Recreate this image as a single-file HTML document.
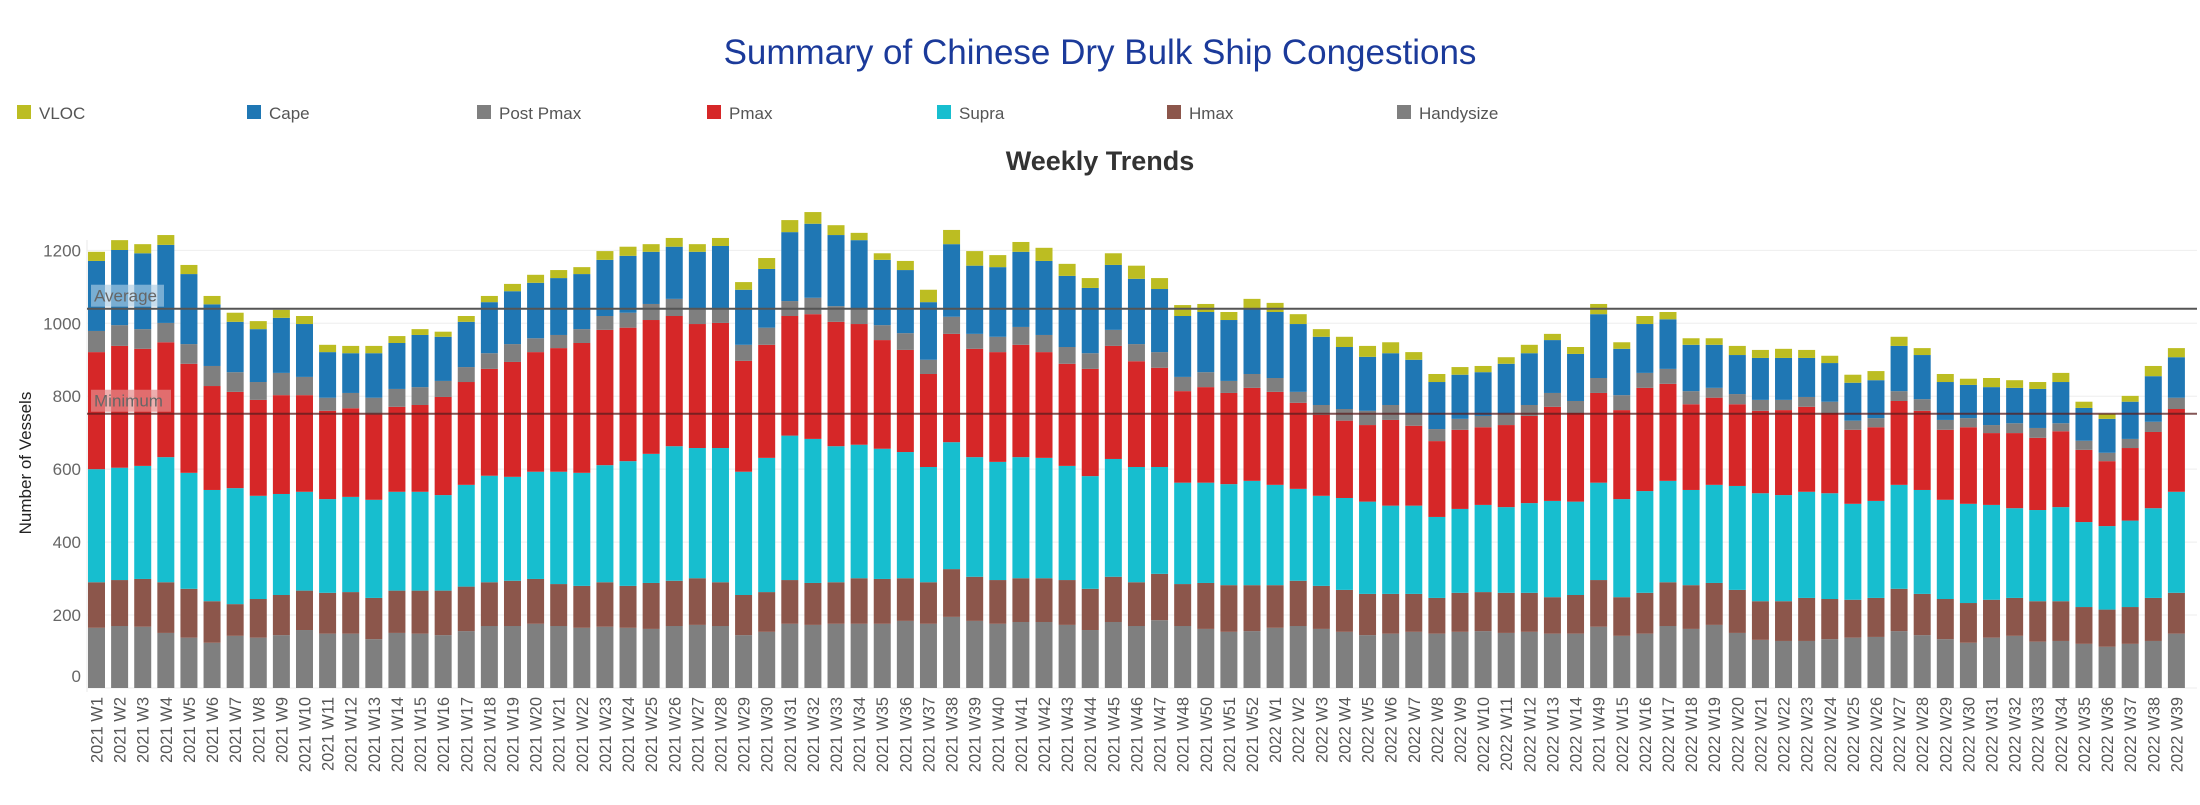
<!DOCTYPE html>
<html><head><meta charset="utf-8">
<style>
html,body{margin:0;padding:0;background:#fff;}
body{width:2200px;height:800px;overflow:hidden;font-family:"Liberation Sans",sans-serif;}
</style></head>
<body>
<svg id="chart" width="2200" height="800" viewBox="0 0 2200 800" xmlns="http://www.w3.org/2000/svg" font-family="Liberation Sans, sans-serif">
  <text x="1100" y="64" text-anchor="middle" font-size="35" fill="#1b3a9a">Summary of Chinese Dry Bulk Ship Congestions</text>
  <g id="legend"></g>
  <text x="1100" y="170" text-anchor="middle" font-size="27" font-weight="bold" fill="#333">Weekly Trends</text>
  <text transform="translate(31,463) rotate(-90)" text-anchor="middle" font-size="17" fill="#222">Number of Vessels</text>
  <g id="grid"></g>
  <g id="bars"></g>
  <g id="refs"></g>
  <g id="xlabels"></g>
</svg>
<script>
const categories = ["2021 W1","2021 W2","2021 W3","2021 W4","2021 W5","2021 W6","2021 W7","2021 W8","2021 W9","2021 W10","2021 W11","2021 W12","2021 W13","2021 W14","2021 W15","2021 W16","2021 W17","2021 W18","2021 W19","2021 W20","2021 W21","2021 W22","2021 W23","2021 W24","2021 W25","2021 W26","2021 W27","2021 W28","2021 W29","2021 W30","2021 W31","2021 W32","2021 W33","2021 W34","2021 W35","2021 W36","2021 W37","2021 W38","2021 W39","2021 W40","2021 W41","2021 W42","2021 W43","2021 W44","2021 W45","2021 W46","2021 W47","2021 W48","2021 W50","2021 W51","2021 W52","2022 W1","2022 W2","2022 W3","2022 W4","2022 W5","2022 W6","2022 W7","2022 W8","2022 W9","2022 W10","2022 W11","2022 W12","2022 W13","2022 W14","2021 W49","2022 W15","2022 W16","2022 W17","2022 W18","2022 W19","2022 W20","2022 W21","2022 W22","2022 W23","2022 W24","2022 W25","2022 W26","2022 W27","2022 W28","2022 W29","2022 W30","2022 W31","2022 W32","2022 W33","2022 W34","2022 W35","2022 W36","2022 W37","2022 W38","2022 W39"];
const handysize = [165,170,168,151,138,124,143,138,145,159,149,149,134,151,149,145,156,170,170,176,170,165,168,165,162,170,173,170,145,154,176,173,176,176,176,184,176,195,184,176,181,181,173,159,181,170,186,170,162,154,156,165,170,162,154,145,149,154,149,154,156,151,154,149,149,168,143,149,170,162,173,151,132,129,129,134,138,140,156,145,134,124,138,143,127,129,121,113,121,129,149];
const hmax = [125,126,131,139,134,114,87,106,110,108,112,114,113,116,118,122,122,120,124,123,115,115,122,115,126,124,128,120,110,109,120,115,114,125,123,117,114,131,121,120,120,120,123,113,124,120,127,115,126,128,126,117,124,118,115,113,109,104,98,107,107,110,107,100,106,128,106,112,120,120,115,118,106,109,118,110,104,107,116,113,110,109,104,104,111,109,101,102,101,118,112];
const supra = [310,308,310,343,318,305,318,283,277,271,257,261,269,271,271,262,279,292,285,294,308,310,321,342,354,369,357,368,338,368,396,395,373,366,357,346,316,348,328,324,332,330,313,309,323,316,293,278,275,277,286,275,252,247,252,253,242,242,222,230,239,235,246,264,256,267,269,279,278,261,269,285,296,291,291,290,263,266,285,285,272,272,260,246,250,258,233,229,237,246,277];
const pmax = [321,334,321,315,299,285,264,263,271,265,242,243,234,233,238,269,282,293,315,328,339,356,371,366,367,357,340,343,304,310,328,342,341,331,298,280,255,297,297,301,308,290,280,294,310,290,272,251,262,250,255,255,236,222,212,210,235,219,208,217,213,225,239,258,243,246,244,283,266,235,239,224,226,233,233,220,203,202,230,217,192,210,197,206,198,208,198,178,199,209,227];
const postPmax = [58,57,54,53,54,55,54,49,61,50,36,42,46,49,49,44,41,43,49,38,36,38,38,41,44,47,44,41,44,47,41,45,43,42,41,46,39,47,41,42,49,47,46,43,44,47,43,39,41,33,38,38,30,27,32,39,41,33,33,30,31,31,30,38,33,41,41,41,41,36,27,28,30,28,27,31,25,25,27,32,27,25,22,27,27,22,25,23,25,28,31];
const cape = [192,206,208,214,192,169,138,145,151,145,125,109,122,126,143,121,124,140,145,152,156,151,154,156,143,143,154,170,151,161,189,203,195,188,179,173,158,199,187,191,206,203,195,179,178,179,173,167,165,167,181,181,186,187,170,148,142,148,129,121,120,137,142,145,129,175,127,134,136,127,118,107,115,115,107,106,104,104,124,121,104,91,104,97,107,113,90,93,102,125,111];
const vloc = [25,27,25,27,25,23,25,22,22,22,20,20,20,19,16,14,16,17,20,22,22,19,24,25,21,24,21,22,21,30,33,32,27,20,18,25,34,39,40,33,27,36,33,27,32,36,30,30,22,22,25,25,27,21,28,30,30,21,22,21,17,18,23,17,19,28,18,22,20,18,18,25,22,25,22,20,22,25,25,19,22,17,25,21,19,25,17,14,16,28,25];
const seriesNames = ["Handysize","Hmax","Supra","Pmax","Post Pmax","Cape","VLOC"];
const seriesData = [handysize,hmax,supra,pmax,postPmax,cape,vloc];
const seriesColors = ["#7f7f7f","#8c564b","#17becf","#d62728","#7f7f7f","#1f77b4","#bcbd22"];
const yTicks = [0,200,400,600,800,1000,1200];
const averageValue = 1040;
const minimumValue = 752;

const NS = "http://www.w3.org/2000/svg";
const baseY = 688, pxPerUnit = 0.3647;
const plotLeft = 87, plotRight = 2197;
const firstBar = 88, pitch = 23.11, barW = 17;
function yScale(v){ return baseY - v*pxPerUnit; }
function xScale(i){ return firstBar + i*pitch; }
function mk(tag, attrs, parent){
  const e = document.createElementNS(NS, tag);
  for (const k in attrs) e.setAttribute(k, attrs[k]);
  parent.appendChild(e); return e;
}

// legend (top-to-bottom order of stack)
const legendOrder = [6,5,4,3,2,1,0];
const legend = document.getElementById('legend');
legendOrder.forEach((si, j) => {
  const g = mk('g', {}, legend);
  
  
  const lx = 17 + j*230;
  mk('rect', {x: lx, y: 105, width: 14, height: 14, fill: seriesColors[si]}, g);
  const t = mk('text', {x: lx + 22, y: 119, 'font-size': 17, fill: '#555'}, g);
  t.textContent = seriesNames[si];
});

// grid + y ticks
const grid = document.getElementById('grid');
mk('line', {x1: plotLeft, y1: 240, x2: plotLeft, y2: baseY + 4, stroke: '#e8e8e8', 'stroke-width': 1}, grid);
yTicks.forEach(v => {
  const y = yScale(v);
  const l = mk('line', {x1: plotLeft, y1: y, x2: plotRight, y2: y, stroke: '#eeeeee', 'stroke-width': 1}, grid);
  
  
  const t = mk('text', {x: 81, y: (v === 0 ? y - 6 : y + 6), 'text-anchor': 'end', 'font-size': 17, fill: '#666'}, grid);
  
  
  t.textContent = v;
});

// bars
const bars = document.getElementById('bars');
categories.forEach((c, i) => {
  let cum = 0;
  seriesData.forEach((arr, si) => {
    const v = arr[i];
    const y0 = yScale(cum), y1 = yScale(cum + v);
    const r = mk('rect', {x: xScale(i), y: y1, width: barW, height: y0 - y1, fill: seriesColors[si]}, bars);
    
    
    cum += v;
  });
});

// reference lines
const refs = document.getElementById('refs');
[[averageValue, 'Average', 'rgba(170,205,228,0.65)', '#555', 'average'],
 [minimumValue, 'Minimum', 'rgba(230,140,140,0.7)', 'rgba(90,30,30,0.75)', 'minimum']].forEach(r => {
  const y = yScale(r[0]);
  const b = mk('rect', {x: 91, y: y - 24, width: r[1] === 'Average' ? 73 : 80, height: 22, fill: r[2]}, refs);
  
  
  const t = mk('text', {x: 94, y: y - 7, 'font-size': 17, fill: '#666'}, refs);
  
  
  t.textContent = r[1];
  const l = mk('line', {x1: plotLeft, y1: y, x2: plotRight, y2: y, stroke: r[3], 'stroke-width': 2}, refs);
  
  
});

// x labels
const xl = document.getElementById('xlabels');
categories.forEach((c, i) => {
  const cx = xScale(i) + barW/2 + 6;
  const t = mk('text', {transform: 'translate(' + cx + ',697) rotate(-90)', 'text-anchor': 'end', 'font-size': 16.5, fill: '#555'}, xl);
  
  
  t.textContent = c;
});
</script>
</body></html>
